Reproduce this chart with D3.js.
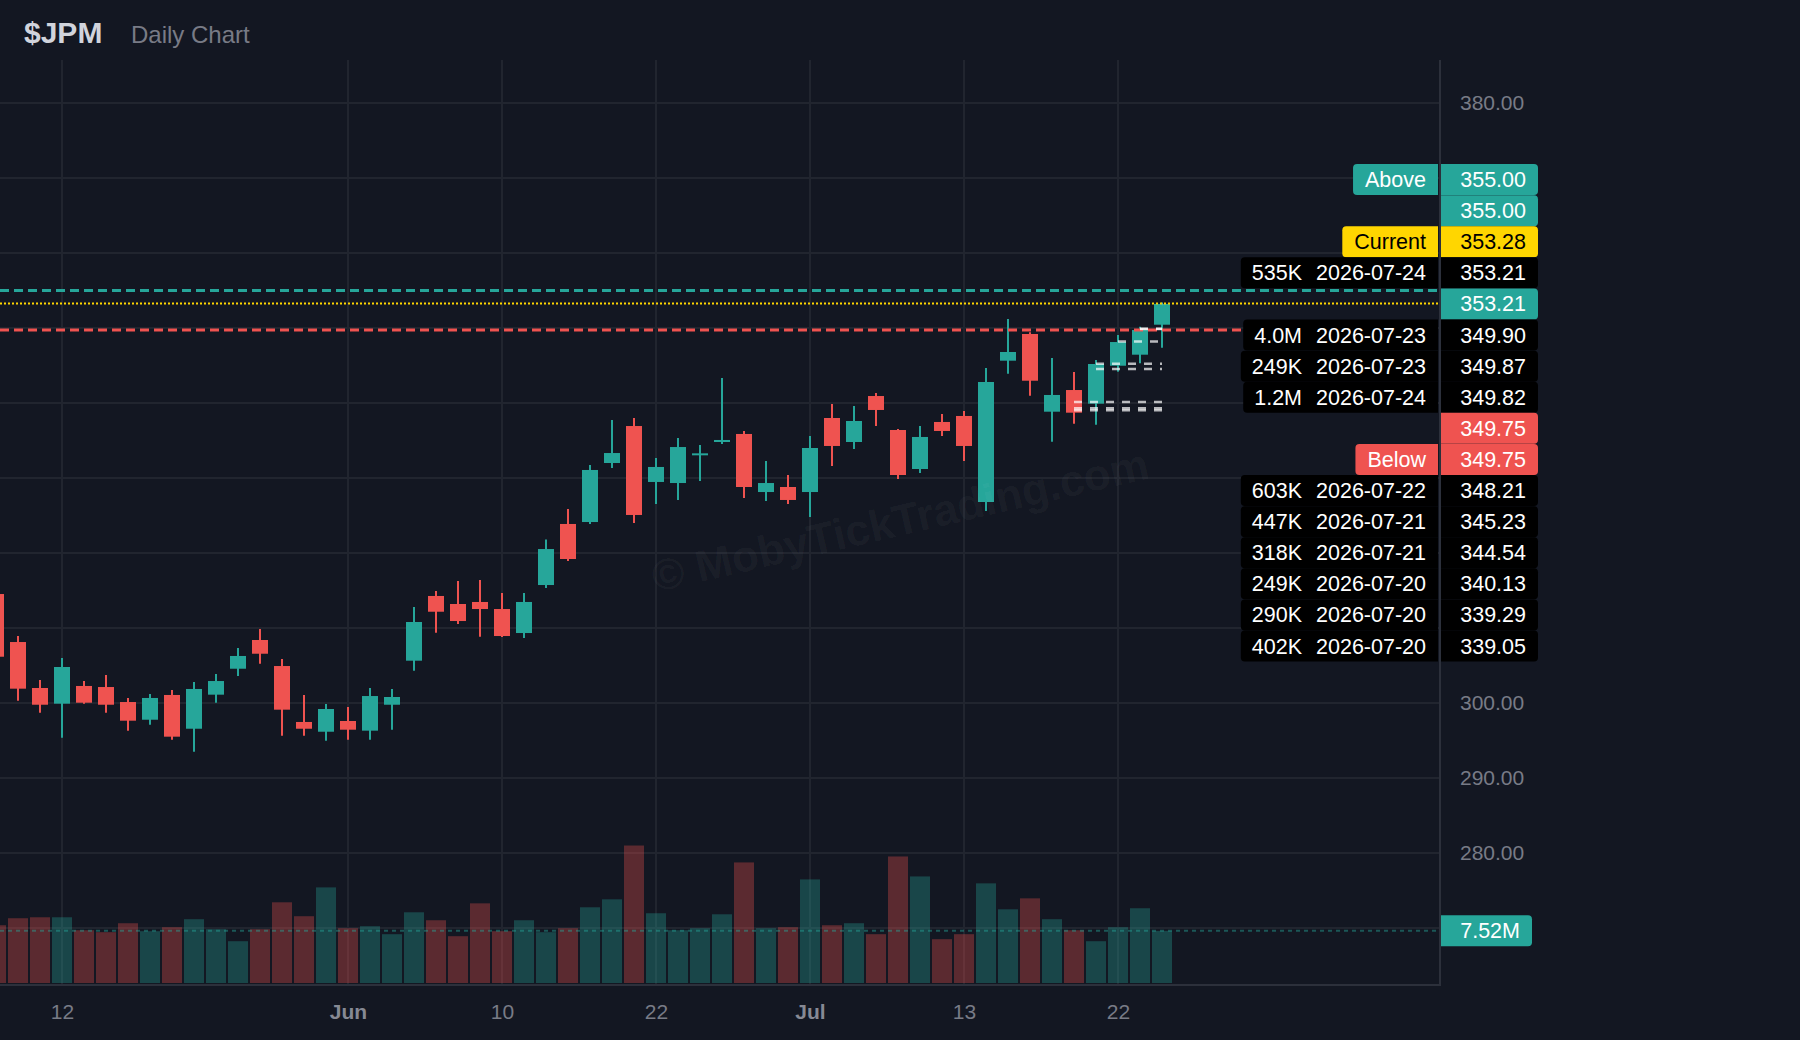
<!DOCTYPE html>
<html><head><meta charset="utf-8">
<script src="https://cdn.jsdelivr.net/npm/d3@7"></script>
<style>
html,body{margin:0;padding:0;background:#131722;}
svg{display:block;font-family:"Liberation Sans",Arial,sans-serif;}
</style></head><body>
<svg id="chart" width="1800" height="1040"></svg>
<script>
// ---------------- DATA ----------------
const dates = ["2026-05-07","2026-05-08","2026-05-11","2026-05-12","2026-05-13","2026-05-14","2026-05-15","2026-05-18","2026-05-19","2026-05-20","2026-05-21","2026-05-22","2026-05-26","2026-05-27","2026-05-28","2026-05-29","2026-06-01","2026-06-02","2026-06-03","2026-06-04","2026-06-05","2026-06-08","2026-06-09","2026-06-10","2026-06-11","2026-06-12","2026-06-15","2026-06-16","2026-06-17","2026-06-18","2026-06-22","2026-06-23","2026-06-24","2026-06-25","2026-06-26","2026-06-29","2026-06-30","2026-07-01","2026-07-02","2026-07-06","2026-07-07","2026-07-08","2026-07-09","2026-07-10","2026-07-13","2026-07-14","2026-07-15","2026-07-16","2026-07-17","2026-07-20","2026-07-21","2026-07-22","2026-07-23","2026-07-24"];
const opens  = [314.53,308.13,302.00,299.91,302.27,302.13,300.13,297.77,301.07,296.57,301.11,304.57,308.40,304.93,297.47,296.17,297.60,296.31,299.77,305.64,314.27,313.20,313.47,312.53,309.33,315.73,323.87,324.13,332.00,336.93,329.47,329.33,333.03,334.80,335.87,328.13,328.80,328.13,338.00,334.80,340.93,336.40,331.20,337.47,338.27,326.80,345.64,349.20,338.84,341.73,339.91,344.97,346.44,350.44];
const highs  = [314.90,308.93,303.07,306.00,302.93,303.73,300.67,301.20,301.73,302.80,303.87,307.33,309.87,305.87,301.07,299.87,299.47,302.00,301.87,312.80,314.93,316.27,316.40,314.67,314.67,321.79,325.87,331.73,337.73,338.00,332.67,335.33,334.40,343.33,336.27,332.27,330.40,335.60,339.87,339.60,341.33,336.53,336.93,338.53,338.93,344.67,351.20,349.43,346.00,344.13,345.73,349.07,350.17,353.40];
const lows   = [305.80,300.31,298.71,295.37,299.91,298.71,296.31,297.11,295.11,293.51,300.04,303.60,305.24,295.64,295.64,294.97,295.11,295.11,296.44,304.31,309.37,310.53,308.84,308.80,308.67,315.33,318.93,323.87,331.33,324.00,326.53,327.07,329.60,334.53,327.33,326.93,326.53,324.80,331.60,333.87,336.93,329.87,330.67,335.60,332.27,325.60,343.91,340.97,334.84,337.24,337.11,344.17,345.29,347.37];
const closes = [306.17,301.91,299.77,304.80,300.04,299.77,297.64,300.67,295.51,301.87,302.93,306.27,306.57,299.11,296.57,299.20,296.44,300.93,300.80,310.80,312.17,310.93,312.53,308.93,313.47,320.53,319.20,331.07,333.33,325.07,331.47,334.13,333.29,335.07,328.80,329.33,327.07,334.00,334.27,337.60,339.07,330.40,335.47,336.27,334.27,342.80,346.80,342.97,341.07,338.71,345.20,348.13,349.73,353.21];
const volumes = [8.33,9.34,9.48,9.48,7.61,7.33,8.62,7.47,8.05,9.20,7.76,6.03,7.76,11.64,9.63,13.79,7.90,8.19,7.04,10.20,9.05,6.75,11.49,7.47,9.05,7.33,7.90,10.92,12.07,19.83,10.06,7.61,7.90,9.91,17.39,7.90,8.05,14.94,8.33,8.62,7.04,18.25,15.37,6.32,7.04,14.37,10.63,12.21,9.20,7.61,6.03,8.05,10.78,7.52]; // millions

const xTickDates  = ["2026-05-12","2026-06-01","2026-06-10","2026-06-22","2026-07-01","2026-07-13","2026-07-22"];
const xTickLabels = ["12","Jun","10","22","Jul","13","22"];
const monthLabels = ["Jun","Jul"];
const yTicks = [270,280,290,300,310,320,330,340,350,360,370,380];

const tagNames  = ["Above","Current","Below"];
const tagPrices = [355.00, 353.28, 349.75];
const alertPrices = [355.00, 349.75];

const levelVolumes = ["535K","4.0M","249K","1.2M","603K","447K","318K","249K","290K","402K"];
const levelDates   = ["2026-07-24","2026-07-23","2026-07-23","2026-07-24","2026-07-22","2026-07-21","2026-07-21","2026-07-20","2026-07-20","2026-07-20"];
const levelPrices  = [353.21,349.90,349.87,349.82,348.21,345.23,344.54,340.13,339.29,339.05];

// ---------------- STYLE / LAYOUT ----------------
const TEAL = "#26a69a", RED = "#ef5350", YELLOW = "#ffd600";
const BG = "#131722", GRID = "#21252f", FRAME = "#2c303b", AXIS_TXT = "#787b86";
const plotTop = 60, plotBottom = 984, axisX = 1440;
const FONT_LBL = 21.5, FONT_AX = 21;

const svg = d3.select("#chart");
svg.append("rect").attr("width",1800).attr("height",1040).attr("fill",BG);

const x = d3.scalePoint().domain(dates).range([-4, 1162]);
const y = d3.scaleLinear().domain([280, 380]).range([853, 103]);
const yVol = d3.scaleLinear().domain([0, 30]).range([983, 775]);
const fmt2 = d3.format(".2f");

const candles = dates.map((d,i)=>({date:d,o:opens[i],h:highs[i],l:lows[i],c:closes[i],v:volumes[i],up:closes[i]>=opens[i]}));
const last = candles[candles.length-1];

const plot = svg.append("g");
plot.append("clipPath").attr("id","clip").append("rect").attr("x",0).attr("y",plotTop).attr("width",axisX).attr("height",plotBottom-plotTop);
const clipped = plot.append("g").attr("clip-path","url(#clip)");

// grid
clipped.append("g").selectAll("line").data(yTicks).join("line")
  .attr("x1",0).attr("x2",axisX).attr("y1",d=>y(d)).attr("y2",d=>y(d))
  .attr("stroke",GRID).attr("stroke-width",2);
clipped.append("g").selectAll("line").data(xTickDates).join("line")
  .attr("x1",d=>x(d)).attr("x2",d=>x(d)).attr("y1",plotTop).attr("y2",plotBottom)
  .attr("stroke",GRID).attr("stroke-width",2);

// watermark
svg.append("text").text("© MobyTickTrading.com")
  .attr("x",0).attr("y",0)
  .attr("transform","translate(900,520) rotate(-13)")
  .attr("text-anchor","middle").attr("dy","0.35em")
  .attr("font-size",44).attr("font-weight",700)
  .attr("fill","#ffffff").attr("fill-opacity",0.045);

// volume
clipped.append("g").selectAll("rect").data(candles).join("rect")
  .attr("x",d=>x(d.date)-10).attr("width",20)
  .attr("y",d=>yVol(d.v)).attr("height",d=>yVol(0)-yVol(d.v))
  .attr("fill",d=>d.up?TEAL:RED).attr("fill-opacity",0.33);
clipped.append("line").attr("x1",0).attr("x2",axisX)
  .attr("y1",yVol(last.v)).attr("y2",yVol(last.v))
  .attr("stroke",TEAL).attr("stroke-opacity",0.45).attr("stroke-width",2).attr("stroke-dasharray","4,4");

// candles
const cg = clipped.append("g");
cg.selectAll("line").data(candles).join("line")
  .attr("x1",d=>x(d.date)).attr("x2",d=>x(d.date))
  .attr("y1",d=>y(d.h)).attr("y2",d=>y(d.l))
  .attr("stroke",d=>d.up?TEAL:RED).attr("stroke-width",2);
cg.selectAll("rect").data(candles).join("rect")
  .attr("x",d=>x(d.date)-8).attr("width",16)
  .attr("y",d=>y(Math.max(d.o,d.c)))
  .attr("height",d=>Math.max(2,Math.abs(y(d.o)-y(d.c))))
  .attr("fill",d=>d.up?TEAL:RED);

// alert lines
clipped.append("g").selectAll("line").data(alertPrices).join("line")
  .attr("x1",0).attr("x2",axisX).attr("y1",d=>y(d)).attr("y2",d=>y(d))
  .attr("stroke",d=>d>=last.c?TEAL:RED).attr("stroke-width",3).attr("stroke-dasharray","9,5");
// current line
clipped.append("line").attr("x1",0).attr("x2",axisX)
  .attr("y1",y(tagPrices[1])).attr("y2",y(tagPrices[1]))
  .attr("stroke",YELLOW).attr("stroke-width",2).attr("stroke-dasharray","2,2");
// level lines
clipped.append("g").selectAll("line").data(levelPrices).join("line")
  .attr("x1",(d,i)=>x(levelDates[i])).attr("x2",x(last.date))
  .attr("y1",d=>y(d)).attr("y2",d=>y(d))
  .attr("stroke","#ffffff").attr("stroke-opacity",0.7).attr("stroke-width",2.5).attr("stroke-dasharray","8,8");

// frame
svg.append("line").attr("x1",axisX).attr("x2",axisX).attr("y1",plotTop).attr("y2",plotBottom+1)
  .attr("stroke",FRAME).attr("stroke-width",2);
svg.append("line").attr("x1",0).attr("x2",axisX+1).attr("y1",plotBottom+1).attr("y2",plotBottom+1)
  .attr("stroke",FRAME).attr("stroke-width",2);

// ---------------- LABEL STACK (layout) ----------------
function boxPath(x0, y0, w, h, r, left, right) {
  const p = d3.path();
  p.moveTo(x0 + (left? r:0), y0);
  p.lineTo(x0 + w - (right? r:0), y0);
  if (right) p.arcTo(x0+w, y0, x0+w, y0+r, r);
  p.lineTo(x0+w, y0+h-(right?r:0));
  if (right) p.arcTo(x0+w, y0+h, x0+w-r, y0+h, r);
  p.lineTo(x0+(left?r:0), y0+h);
  if (left) p.arcTo(x0, y0+h, x0, y0+h-r, r);
  p.lineTo(x0, y0+(left?r:0));
  if (left) p.arcTo(x0, y0, x0+r, y0, r);
  p.closePath();
  return p.toString();
}

const rows = [];
tagNames.forEach((t,i)=>rows.push({price:tagPrices[i], tag:t,
  fill: i===0?TEAL:(i===1?YELLOW:RED), ink: i===1?"#000":"#fff", rank: i===0?-1:(i===2?1:0)}));
alertPrices.forEach(p=>rows.push({price:p, fill:p>=last.c?TEAL:RED, ink:"#fff", rank:0}));
levelPrices.forEach((p,i)=>rows.push({price:p, vol:levelVolumes[i], date:levelDates[i], fill:"#000", ink:"#fff", rank:0}));
rows.push({price:last.c, fill:last.up?TEAL:RED, ink:"#fff", rank:0.5, anchor:true});
rows.sort((a,b)=> (b.price-a.price) || (a.rank-b.rank));

const step = 31.1, boxH = 31;
const ai = rows.findIndex(r=>r.anchor);
rows[ai].y = y(rows[ai].price);
for (let i=ai-1;i>=0;i--) rows[i].y = Math.min(y(rows[i].price), rows[i+1].y - step);
for (let i=ai+1;i<rows.length;i++) rows[i].y = Math.max(y(rows[i].price), rows[i-1].y + step);
const volLabelY = yVol(last.v);
const occupied = rows.map(r=>r.y).concat([volLabelY]);

// axes (price ticks hidden where a price label covers them)
const visibleYTicks = yTicks.filter(t => occupied.every(oy => Math.abs(y(t)-oy) > boxH/2 + 9));
const yAxis = svg.append("g").attr("transform",`translate(${axisX},0)`)
  .call(d3.axisRight(y).tickValues(visibleYTicks).tickFormat(fmt2).tickSize(0).tickPadding(20));
yAxis.select(".domain").remove();
yAxis.selectAll("text").attr("fill",AXIS_TXT).attr("font-size",FONT_AX).attr("font-family","Liberation Sans, Arial, sans-serif");

const xAxis = svg.append("g").attr("transform",`translate(0,${plotBottom})`)
  .call(d3.axisBottom(x).tickValues(xTickDates).tickFormat((d,i)=>xTickLabels[i]).tickSize(0).tickPadding(20));
xAxis.select(".domain").remove();
xAxis.selectAll("text").attr("font-size",FONT_AX).attr("font-family","Liberation Sans, Arial, sans-serif")
  .attr("fill",d=>monthLabels.includes(xTickLabels[xTickDates.indexOf(d)])?"#868994":AXIS_TXT)
  .attr("font-weight",d=>monthLabels.includes(xTickLabels[xTickDates.indexOf(d)])?700:400);

const lg = svg.append("g").attr("font-size",FONT_LBL);
const priceBoxX = axisX+1, priceBoxW = 97, leftRight = axisX-2;
rows.forEach(r=>{
  const g = lg.append("g").attr("transform",`translate(0,${r.y})`);
  g.append("path").attr("d",boxPath(priceBoxX,-boxH/2,priceBoxW,boxH,4,false,true)).attr("fill",r.fill);
  g.append("text").attr("x",priceBoxX+priceBoxW-12).attr("dy","0.35em").attr("text-anchor","end")
    .attr("fill",r.ink).text(fmt2(r.price));
  if (r.tag) {
    const t = g.append("text").attr("x",leftRight-12).attr("dy","0.35em").attr("text-anchor","end")
      .attr("fill",r.ink).text(r.tag);
    const w = t.node().getComputedTextLength() + 24;
    g.insert("path","text").attr("d",boxPath(leftRight-w,-boxH/2,w,boxH,4,true,false)).attr("fill",r.fill);
  } else if (r.vol) {
    const dt = g.append("text").attr("x",leftRight-12).attr("dy","0.35em").attr("text-anchor","end")
      .attr("fill",r.ink).text(r.date);
    const dw = dt.node().getComputedTextLength();
    const vx = leftRight-12-dw-14;
    const vt = g.append("text").attr("x",vx).attr("dy","0.35em").attr("text-anchor","end")
      .attr("fill",r.ink).text(r.vol);
    const vw = vt.node().getComputedTextLength();
    const bx = vx - vw - 11;
    g.insert("path","text").attr("d",boxPath(bx,-boxH/2,leftRight-bx,boxH,4,true,false)).attr("fill",r.fill);
  }
});

// volume label
const vg = svg.append("g").attr("transform",`translate(0,${volLabelY})`).attr("font-size",FONT_LBL);
vg.append("path").attr("d",boxPath(axisX+1,-boxH/2,91,boxH,4,false,true)).attr("fill",last.up?TEAL:RED);
vg.append("text").attr("x",axisX+1+91-12).attr("dy","0.35em").attr("text-anchor","end").attr("fill","#fff")
  .text(fmt2(last.v)+"M");

// title
svg.append("text").attr("x",24).attr("y",42.5).attr("font-size",30).attr("font-weight",700)
  .attr("fill","#d1d4dc").text("$JPM");
svg.append("text").attr("x",131).attr("y",42.5).attr("font-size",24)
  .attr("fill",AXIS_TXT).text("Daily Chart");
</script>
</body></html>
